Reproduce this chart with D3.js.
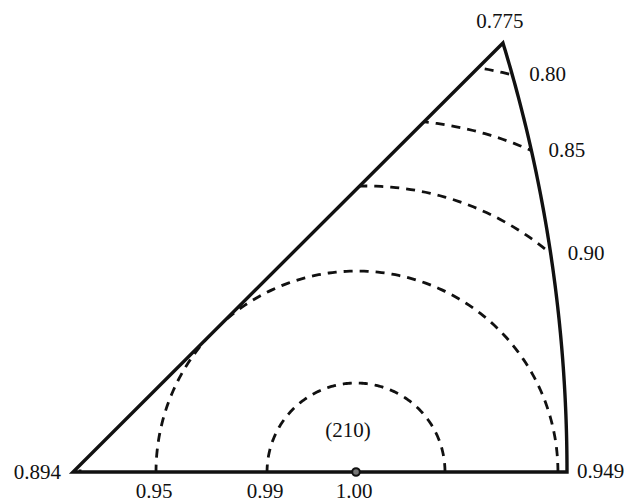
<!DOCTYPE html>
<html>
<head>
<meta charset="utf-8">
<script src="https://cdn.jsdelivr.net/npm/d3@7"></script>
<style>
  html, body { margin: 0; padding: 0; background: #fff; }
  svg { display: block; }
  text { font-family: "Liberation Serif", "Times New Roman", serif; fill: #111; }
</style>
</head>
<body>
<script>
// ---- data (stereographic-triangle coordinates) ----
const cornerNames  = ["left", "right", "top"];
const cornerX      = [0, 0.4142, 0.3605];
const cornerY      = [0, 0, 0.3597];
const cornerLabels = ["0.894", "0.949", "0.775"];

const poleX = 0.2373, poleY = 0;
const poleLabel = "(210)";

const contourLevels  = ["0.99", "0.95", "0.90", "0.85", "0.80"];
const contourCenterX = [0.2373, 0.2381, 0.2457, 0.2641, 0.2826];
const contourRadius  = [0.0746, 0.1685, 0.2398, 0.2951, 0.3438];
// where each level is labelled: on the base line or on the curved edge
const contourLabelAt = ["base", "base", "arc", "arc", "arc"];
const poleBaseLabel  = "1.00";

// ---- layout ----
const W = 628, H = 503;
const x = d3.scaleLinear().domain([0, 0.4142]).range([73, 567]);
const y = d3.scaleLinear().domain([0, 0.3597]).range([472, 43]);

const svg = d3.select("body").append("svg").attr("width", W).attr("height", H);

// curved edge: circle centred on the base line through the right and top corners
const bx = cornerX[1], cxT = cornerX[2], cyT = cornerY[2];
const arcC = ((bx * bx) - (cxT * cxT) - (cyT * cyT)) / (2 * (bx - cxT));
const arcR = bx - arcC;
const aEnd = Math.atan2(cyT, cxT - arcC);
const arcPts = d3.range(0, 101).map(i => {
  const a = aEnd * i / 100;
  return [arcC + arcR * Math.cos(a), arcR * Math.sin(a)];
});

const line = d3.line().x(d => x(d[0])).y(d => y(d[1]));
const boundary = [[cornerX[0], cornerY[0]]].concat(arcPts, [[cornerX[0], cornerY[0]]]);

svg.append("clipPath").attr("id", "tri")
  .append("path").attr("d", line(boundary) + "Z");

// contours (circles about the pole, clipped to the triangle)
const gC = svg.append("g").attr("clip-path", "url(#tri)");
contourLevels.forEach((lev, i) => {
  const pts = d3.range(0, 181).map(k => {
    const a = Math.PI * k / 180;
    return [contourCenterX[i] + contourRadius[i] * Math.cos(a), contourRadius[i] * Math.sin(a)];
  });
  gC.append("path")
    .attr("d", line(pts))
    .attr("fill", "none")
    .attr("stroke", "#111")
    .attr("stroke-width", 2.8)
    .attr("stroke-dasharray", "9,7");
});

// triangle outline
svg.append("path")
  .attr("d", line(boundary) + "Z")
  .attr("fill", "none")
  .attr("stroke", "#111")
  .attr("stroke-width", 3.4)
  .attr("stroke-linejoin", "miter");

// pole marker
svg.append("circle")
  .attr("cx", x(poleX)).attr("cy", y(poleY)).attr("r", 3.8)
  .attr("fill", "#777").attr("stroke", "#111").attr("stroke-width", 2);

const fs = 21;
// corner labels
svg.append("text").attr("x", x(cornerX[0]) - 12).attr("y", y(cornerY[0]) + 7)
  .attr("text-anchor", "end").attr("font-size", fs).text(cornerLabels[0]);
svg.append("text").attr("x", x(cornerX[1]) + 10).attr("y", y(cornerY[1]) + 6)
  .attr("text-anchor", "start").attr("font-size", fs).text(cornerLabels[1]);
svg.append("text").attr("x", x(cornerX[2]) - 3).attr("y", y(cornerY[2]) - 15)
  .attr("text-anchor", "middle").attr("font-size", fs).text(cornerLabels[2]);

// contour labels
contourLevels.forEach((lev, i) => {
  const c = contourCenterX[i], r = contourRadius[i];
  if (contourLabelAt[i] === "base") {
    svg.append("text").attr("x", x(c - r) - 2).attr("y", y(0) + 26)
      .attr("text-anchor", "middle").attr("font-size", fs).text(lev);
  } else {
    const xi = (r * r - arcR * arcR - c * c + arcC * arcC) / (2 * (arcC - c));
    const yi = Math.sqrt(Math.max(0, r * r - (xi - c) * (xi - c)));
    svg.append("text").attr("x", x(xi) + 17).attr("y", y(yi) + 6)
      .attr("text-anchor", "start").attr("font-size", fs).text(lev);
  }
});
svg.append("text").attr("x", x(poleX) - 2).attr("y", y(0) + 26)
  .attr("text-anchor", "middle").attr("font-size", fs).text(poleBaseLabel);

// pole name
svg.append("text").attr("x", x(poleX) - 8).attr("y", y(0) - 35)
  .attr("text-anchor", "middle").attr("font-size", fs).text(poleLabel);
</script>
</body>
</html>
